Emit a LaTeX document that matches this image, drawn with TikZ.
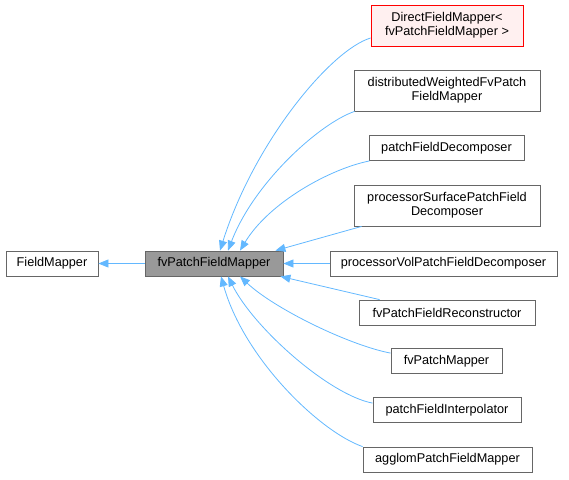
\documentclass[tikz,border=0pt]{standalone}
\usepackage{fontspec}
\setmainfont{Liberation Sans}
\usetikzlibrary{shapes}
\usetikzlibrary{arrows.meta}
\definecolor{edgeblue}{HTML}{63B8FF}
\definecolor{boxgray}{HTML}{666666}
\definecolor{basefill}{HTML}{999999}
\definecolor{tplfill}{HTML}{FFF0F0}

\begin{document}
\begin{tikzpicture}[x=1pt,y=-1pt,
				every node/.style={rectangle,draw=boxgray,fill=white,line width=0.8pt,inner sep=0pt,align=center,
				font=\fontsize{12.7}{14}\selectfont},
				one/.style={minimum height=25pt},
				two/.style={minimum height=41pt},
				inherit/.style={edgeblue,line width=0.8pt,-{Triangle[length=10pt,width=8pt]}}
				]
				\useasboundingbox (0,0) rectangle (569,479);
				\node[one,minimum width=92pt](base) at (52,263.5){FieldMapper};
				\node[one,minimum width=138pt,fill=basefill](fv) at (214,263.5){fvPatchFieldMapper};
				\node[two,minimum width=152pt,draw=red,fill=tplfill](direct) at (447,25.5){DirectFieldMapper<\\ fvPatchFieldMapper >};
				\node[two,minimum width=186pt](dist) at (447,90.5){distributedWeightedFvPatch\\FieldMapper};
				\node[one,minimum width=155pt](pfd) at (446.5,148){patchFieldDecomposer};
				\node[two,minimum width=186pt](pspf) at (447,205.5){processorSurfacePatchField\\Decomposer};
				\node[one,minimum width=227pt](pvpfd) at (443.5,263.5){processorVolPatchFieldDecomposer};
				\node[one,minimum width=176pt](fpfr) at (447,312.5){fvPatchFieldReconstructor};
				\node[one,minimum width=111pt](fpm) at (446.5,361){fvPatchMapper};
				\node[one,minimum width=148pt](pfi) at (447,410){patchFieldInterpolator};
				\node[one,minimum width=169pt](apfm) at (447.5,459.5){agglomPatchFieldMapper};
				% inheritance arrows
				\draw[inherit] (fv.west) -- (base.east);
				\draw[inherit] (pvpfd.west) -- (fv.east);
				\draw[inherit] ([yshift=-12.5pt]direct.west) .. controls +(-40,12) and +(34,-108) .. ([xshift=6pt]fv.north);
				\draw[inherit] ([xshift=1pt]dist.south west) .. controls +(-35,12) and +(26,-68) .. ([xshift=14pt]fv.north);
				\draw[inherit] ([xshift=1pt]pfd.south west) .. controls +(-40,8) and +(29,-48) .. ([xshift=26pt]fv.north);
				\draw[inherit] ([xshift=8pt]pspf.south west) -- ([xshift=-8pt]fv.north east);
				\draw[inherit] ([xshift=21pt]fpfr.north west) -- ([xshift=-3pt]fv.south east);
				\draw[inherit] ([yshift=-5pt]fpm.north west) .. controls +(-42,-8) and +(34,32) .. ([xshift=26pt]fv.south);
				\draw[inherit] ([yshift=-6pt]pfi.north west) .. controls +(-43,-8) and +(26,52) .. ([xshift=14pt]fv.south);
				\draw[inherit] (apfm.north west) .. controls +(-43,-15) and +(23,82) .. ([xshift=7pt]fv.south);
\end{tikzpicture}
\end{document}
